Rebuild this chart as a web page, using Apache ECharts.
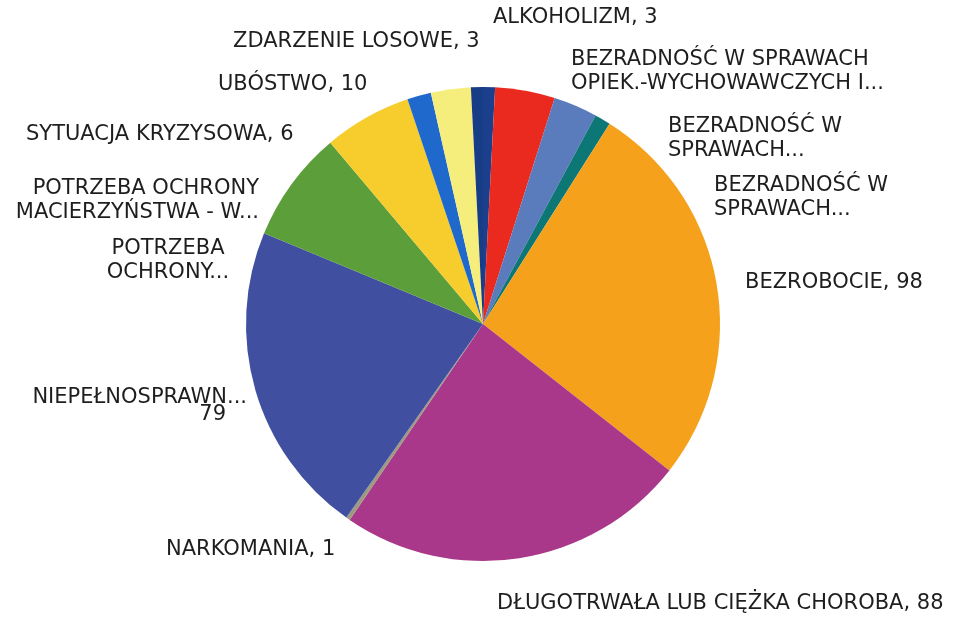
<!DOCTYPE html>
<html>
<head>
<meta charset="utf-8">
<script src="https://cdn.jsdelivr.net/npm/echarts@6/dist/echarts.min.js"></script>
<style>
  html, body { margin: 0; padding: 0; background: #fff; }
  #chart { width: 955px; height: 617px; }
</style>
</head>
<body>
<div id="chart"></div>
<script>
// categories in drawing order (clockwise from 12 o'clock)
const categories = [
  "ALKOHOLIZM",
  "BEZRADNOŚĆ W SPRAWACH OPIEK.-WYCHOWAWCZYCH I...",
  "BEZRADNOŚĆ W SPRAWACH... (1)",
  "BEZRADNOŚĆ W SPRAWACH... (2)",
  "BEZROBOCIE",
  "DŁUGOTRWAŁA LUB CIĘŻKA CHOROBA",
  "NARKOMANIA",
  "NIEPEŁNOSPRAWNOŚĆ",
  "POTRZEBA OCHRONY...",
  "POTRZEBA OCHRONY MACIERZYŃSTWA - W...",
  "SYTUACJA KRYZYSOWA",
  "UBÓSTWO",
  "ZDARZENIE LOSOWE"
];
const values = [3, 15, 11, 4, 98, 88, 1, 79, 28, 22, 6, 10, 3];

// label text as shown on the chart
const labelTexts = [
  "ALKOHOLIZM, 3",
  "BEZRADNOŚĆ W SPRAWACH\nOPIEK.-WYCHOWAWCZYCH I...",
  "BEZRADNOŚĆ W\nSPRAWACH...",
  "BEZRADNOŚĆ W\nSPRAWACH...",
  "BEZROBOCIE, 98",
  "DŁUGOTRWAŁA LUB CIĘŻKA CHOROBA, 88",
  "NARKOMANIA, 1",
  "{a|NIEPEŁNOSPRAWN...}\n{b|79}",
  "POTRZEBA\nOCHRONY...",
  "POTRZEBA OCHRONY\nMACIERZYŃSTWA - W...",
  "SYTUACJA KRYZYSOWA, 6",
  "UBÓSTWO, 10",
  "ZDARZENIE LOSOWE, 3"
];

const colors = [
  "#1b3f8c", "#ea2a1e", "#5b7cbc", "#0d7776", "#f6a11c", "#a9378a",
  "#9c9a80", "#404f9f", "#5c9e3a", "#f6cd2c", "#1f68cc", "#f6ee7c", "#163d86"
];

// where each label sits: [x, y, align]
const labelSpots = [
  [493, 18, "left"],
  [571, 72, "left"],
  [668, 139, "left"],
  [714, 198, "left"],
  [745, 283, "left"],
  [497, 604, "left"],
  [166, 550, "left"],
  [247, 406, "right"],
  [168, 261, "center"],
  [259, 201, "right"],
  [26, 135, "left"],
  [218, 85, "left"],
  [233, 42, "left"]
];

var chart = echarts.init(document.getElementById("chart"));

var option = {
  backgroundColor: "#fff",
  animation: false,
  series: [
    {
      type: "pie",
      center: [483, 324],
      radius: 237,
      startAngle: 90,
      clockwise: true,
      data: categories.map(function (c, i) {
        return { name: c, value: values[i], itemStyle: { color: colors[i] } };
      }),
      label: {
        show: true,
        position: "outside",
        overflow: "none",
        color: "#1e1e1e",
        fontFamily: "DejaVu Sans",
        fontSize: 21,
        lineHeight: 24,
        formatter: function (p) {
          return labelTexts[p.dataIndex];
        },
        rich: {
          a: { fontFamily: "DejaVu Sans", fontSize: 21, color: "#1e1e1e", lineHeight: 17 },
          b: { fontFamily: "DejaVu Sans", fontSize: 21, color: "#1e1e1e", lineHeight: 17, padding: [0, 21, 0, 0] }
        }
      },
      labelLine: { show: false },
      labelLayout: function (params) {
        var s = labelSpots[params.dataIndex];
        return { x: s[0], y: s[1], align: s[2], verticalAlign: "middle" };
      },
      emphasis: { disabled: true }
    }
  ]
};

chart.setOption(option);
</script>
</body>
</html>
